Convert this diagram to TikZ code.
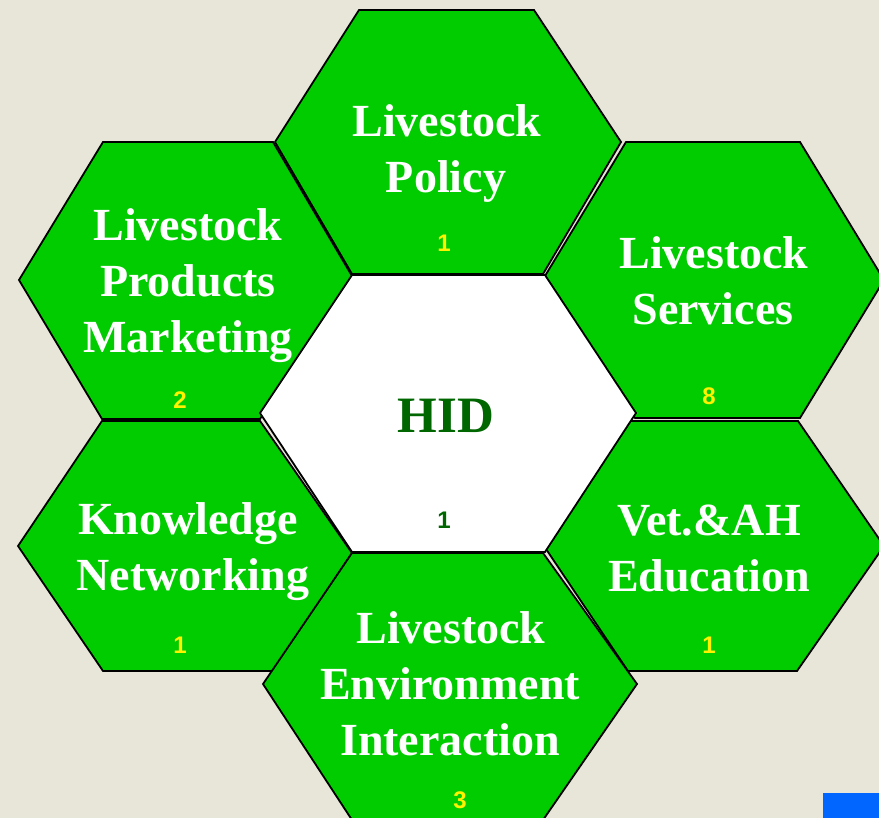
\documentclass[tikz,border=0pt]{standalone}
\usepackage{fontspec}
\setmainfont{Liberation Serif}
\newfontfamily\numfont{Liberation Sans}

\newlength{\du}
\setlength{\du}{1pt}

\definecolor{cellgreen}{rgb}{0.000000, 0.800000, 0.000000}
\definecolor{hidgreen}{rgb}{0.000000, 0.400000, 0.000000}
\definecolor{backcolor}{rgb}{0.910000, 0.900000, 0.850000}
\definecolor{cornerblue}{rgb}{0.000000, 0.400000, 1.000000}

\tikzset{
  cell/.style={fill=cellgreen, draw=black, line width=1.8\du, line join=miter},
  hubcell/.style={fill=white, draw=black, line width=1.8\du, line join=miter},
  celltext/.style={anchor=base, inner sep=0pt, text=white,
    font=\fontsize{46}{56}\selectfont\bfseries},
  hubtext/.style={anchor=base, inner sep=0pt, text=hidgreen,
    font=\fontsize{51}{60}\selectfont\bfseries},
  cellnum/.style={inner sep=0pt, text=yellow, font=\numfont\fontsize{24}{28}\selectfont\bfseries},
  hubnum/.style={inner sep=0pt, text=hidgreen, font=\numfont\fontsize{24}{28}\selectfont\bfseries}
}

\begin{document}
\begin{tikzpicture}
\pgftransformxscale{1.000000}
\pgftransformyscale{-1.000000}
\useasboundingbox (0\du,0\du) rectangle (879\du,818\du);
\clip (0\du,0\du) rectangle (879\du,818\du);
\fill[backcolor] (0\du,0\du) rectangle (879\du,818\du);
% Livestock Policy
\draw[cell] (359\du,10\du)--(534\du,10\du)--(621\du,142\du)--(543\du,274\du)--(352\du,274\du)--(275\du,142\du)--cycle;
% Livestock Products Marketing
\draw[cell] (103\du,142\du)--(273\du,142\du)--(352\du,276\du)--(260\du,419\du)--(102\du,419\du)--(19\du,280\du)--cycle;
% Livestock Services
\draw[cell] (626\du,142\du)--(800\du,142\du)--(884\du,280\du)--(800\du,418\du)--(635\du,418\du)--(545\du,276\du)--cycle;
% Knowledge Networking
\draw[cell] (102\du,421\du)--(260\du,421\du)--(352\du,553\du)--(273\du,671\du)--(103\du,671\du)--(18\du,546\du)--cycle;
% Vet.&AH Education
\draw[cell] (630\du,421\du)--(798\du,421\du)--(884\du,546\du)--(797\du,671\du)--(628\du,671\du)--(546\du,549\du)--cycle;
% Livestock Environment Interaction
\draw[cell] (352\du,553\du)--(543\du,553\du)--(637\du,684\du)--(543\du,820\du)--(352\du,820\du)--(263\du,684\du)--cycle;
% HID
\draw[hubcell] (352\du,275\du)--(545\du,275\du)--(636\du,413\du)--(545\du,552\du)--(352\du,552\du)--(260\du,413\du)--cycle;
% texts
\node[celltext] (policyA) at (447\du,137\du){Livestock};
\node[celltext] (policyB) at (446\du,193\du){Policy};
\node[cellnum] (policyN) at (444\du,243\du){1};
\node[celltext] (marketA) at (188\du,241\du){Livestock};
\node[celltext] (marketB) at (188\du,297\du){Products};
\node[celltext] (marketC) at (188\du,353\du){Marketing};
\node[cellnum] (marketN) at (180\du,400\du){2};
\node[celltext] (serviceA) at (714\du,269\du){Livestock};
\node[celltext] (serviceB) at (713\du,325\du){Services};
\node[cellnum] (serviceN) at (709\du,396\du){8};
\node[celltext] (knowA) at (188\du,534\du){Knowledge};
\node[celltext] (knowB) at (193\du,590\du){Networking};
\node[cellnum] (knowN) at (180\du,645\du){1};
\node[celltext] (vetA) at (709\du,535\du){Vet.\&AH};
\node[celltext] (vetB) at (709\du,591\du){Education};
\node[cellnum] (vetN) at (709\du,645\du){1};
\node[celltext] (envA) at (451\du,643\du){Livestock};
\node[celltext] (envB) at (450\du,699\du){Environment};
\node[celltext] (envC) at (450\du,755\du){Interaction};
\node[cellnum] (envN) at (460\du,800\du){3};
\node[hubtext] (hubA) at (446\du,432\du){HID};
\node[hubnum] (hubN) at (444\du,520\du){1};
% corner
\fill[cornerblue] (823\du,793\du) rectangle (879\du,818\du);
\end{tikzpicture}
\end{document}
